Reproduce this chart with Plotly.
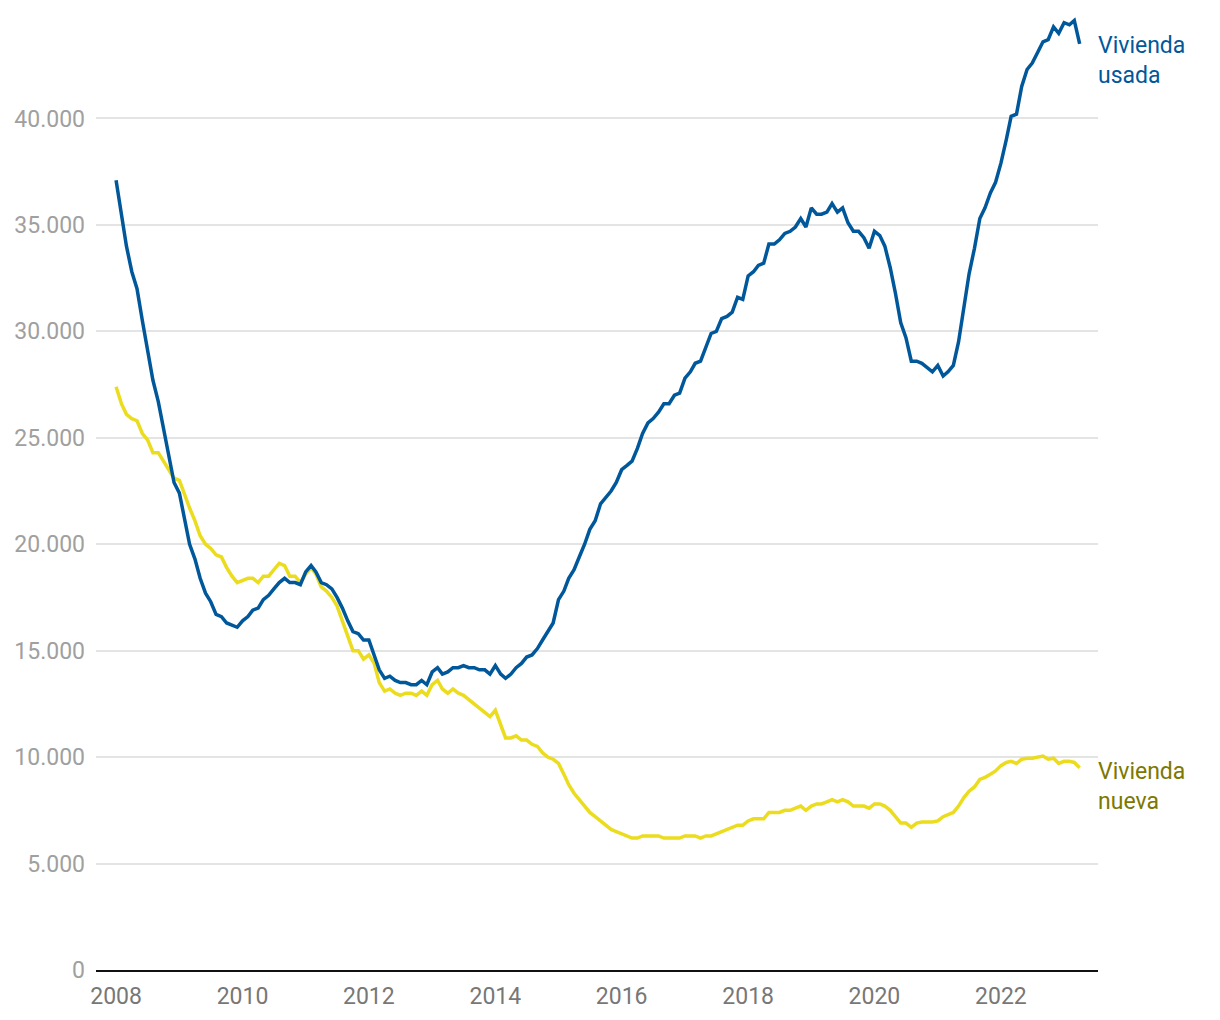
import pandas as pd
import plotly.graph_objects as go

dates = pd.date_range("2008-01-01", periods=184, freq="MS")

vivienda_usada = [
    37100, 35600, 34000, 32800, 32000, 30500, 29200, 27700, 26700, 25400, 24200, 22900,
    22400, 21100, 20000, 19300, 18400, 17700, 17300, 16700, 16600, 16300, 16200, 16100,
    16400, 16600, 16900, 17000, 17400, 17600, 17900, 18200, 18400, 18200, 18200, 18100,
    18700, 19000, 18700, 18200, 18100, 17900, 17500, 17000, 16400, 15900, 15800, 15500,
    15500, 14800, 14100, 13700, 13800, 13600, 13500, 13500, 13400, 13400, 13600, 13400,
    14000, 14200, 13900, 14000, 14200, 14200, 14300, 14200, 14200, 14100, 14100, 13900,
    14300, 13900, 13700, 13900, 14200, 14400, 14700, 14800, 15100, 15500, 15900, 16300,
    17400, 17800, 18400, 18800, 19400, 20000, 20700, 21100, 21900, 22200, 22500, 22900,
    23500, 23700, 23900, 24500, 25200, 25700, 25900, 26200, 26600, 26600, 27000, 27100,
    27800, 28100, 28500, 28600, 29300, 29900, 30000, 30600, 30700, 30900, 31600, 31500,
    32600, 32800, 33100, 33200, 34100, 34100, 34300, 34600, 34700, 34900, 35300, 34900,
    35800, 35500, 35500, 35600, 36000, 35600, 35800, 35100, 34700, 34700, 34400, 33900,
    34700, 34500, 34000, 33000, 31800, 30400, 29700, 28600, 28600, 28500, 28300, 28100,
    28400, 27900, 28100, 28400, 29500, 31000, 32700, 33900, 35300, 35800, 36500, 37000,
    37900, 39000, 40100, 40200, 41500, 42300, 42600, 43100, 43600, 43700, 44300, 44000,
    44500, 44400, 44600, 43500,
]

vivienda_nueva = [
    27400, 26600, 26100, 25900, 25800, 25200, 24900, 24300, 24300, 23900, 23500, 23100,
    23000, 22300, 21700, 21100, 20400, 20000, 19800, 19500, 19400, 18900, 18500, 18200,
    18300, 18400, 18400, 18200, 18500, 18500, 18800, 19100, 19000, 18500, 18500, 18200,
    18600, 18900, 18600, 18000, 17800, 17500, 17100, 16400, 15600, 15000, 15000, 14600,
    14800, 14400, 13500, 13100, 13200, 13000, 12900, 13000, 13000, 12900, 13100, 12900,
    13400, 13600, 13200, 13000, 13200, 13000, 12900, 12700, 12500, 12300, 12100, 11900,
    12200, 11500, 10900, 10900, 11000, 10800, 10800, 10600, 10500, 10200, 10000, 9900,
    9700, 9200, 8700, 8300, 8000, 7700, 7400, 7200, 7000, 6800, 6600, 6500,
    6400, 6300, 6200, 6200, 6300, 6300, 6300, 6300, 6200, 6200, 6200, 6200,
    6300, 6300, 6300, 6200, 6300, 6300, 6400, 6500, 6600, 6700, 6800, 6800,
    7000, 7100, 7100, 7100, 7400, 7400, 7400, 7500, 7500, 7600, 7700, 7500,
    7700, 7800, 7800, 7900, 8000, 7900, 8000, 7900, 7700, 7700, 7700, 7600,
    7800, 7800, 7700, 7500, 7200, 6900, 6900, 6700, 6900, 6950, 6950, 6950,
    7000, 7200, 7300, 7400, 7700, 8100, 8400, 8600, 8950, 9050, 9200, 9350,
    9600, 9750, 9800, 9700, 9900, 9950, 9950, 10000, 10050, 9900, 9950, 9700,
    9800, 9800, 9750, 9500,
]

y_ticks = [0, 5000, 10000, 15000, 20000, 25000, 30000, 35000, 40000]

BLUE = "#00589b"
YELLOW = "#ecdc1e"
OLIVE = "#7d7800"

fig = go.Figure()
fig.add_trace(go.Scatter(x=dates, y=vivienda_nueva, mode="lines",
                         line=dict(color=YELLOW, width=3.5), name="Vivienda nueva",
                         hoverinfo="skip"))
fig.add_trace(go.Scatter(x=dates, y=vivienda_usada, mode="lines",
                         line=dict(color=BLUE, width=3.5), name="Vivienda usada",
                         hoverinfo="skip"))

fig.add_annotation(text="Vivienda<br>usada", xref="paper", x=1.0, xshift=-2, y=42700,
                   yref="y", xanchor="left", yanchor="middle", showarrow=False,
                   align="left", font=dict(family="Roboto", size=23, color=BLUE))
fig.add_annotation(text="Vivienda<br>nueva", xref="paper", x=1.0, xshift=-2, y=8600,
                   yref="y", xanchor="left", yanchor="middle", showarrow=False,
                   align="left", font=dict(family="Roboto", size=23, color=OLIVE))

fig.update_layout(
    width=1220, height=1020,
    margin=dict(l=88, r=130, t=4, b=58),
    paper_bgcolor="white", plot_bgcolor="white",
    showlegend=False,
    separators=",.",
    font=dict(family="Roboto", size=23),
    xaxis=dict(
        type="date",
        range=["2007-09-07", "2023-07-16"],
        tick0="2008-01-01", dtick="M24", tickformat="%Y",
        showgrid=False, zeroline=False,
        showline=True, linecolor="#111111", linewidth=2,
        ticks="", ticklabelstandoff=4,
        tickfont=dict(family="Roboto", size=23, color="#777777"),
    ),
    yaxis=dict(
        range=[0, 45000],
        tickvals=y_ticks, tickformat=",d",
        showgrid=True, gridcolor="#e4e4e4", gridwidth=2,
        zeroline=False, showline=False, ticks="",
        ticklabelstandoff=10,
        tickfont=dict(family="Roboto", size=23, color="#a0a0a0"),
    ),
)

fig.write_html("out.html")
